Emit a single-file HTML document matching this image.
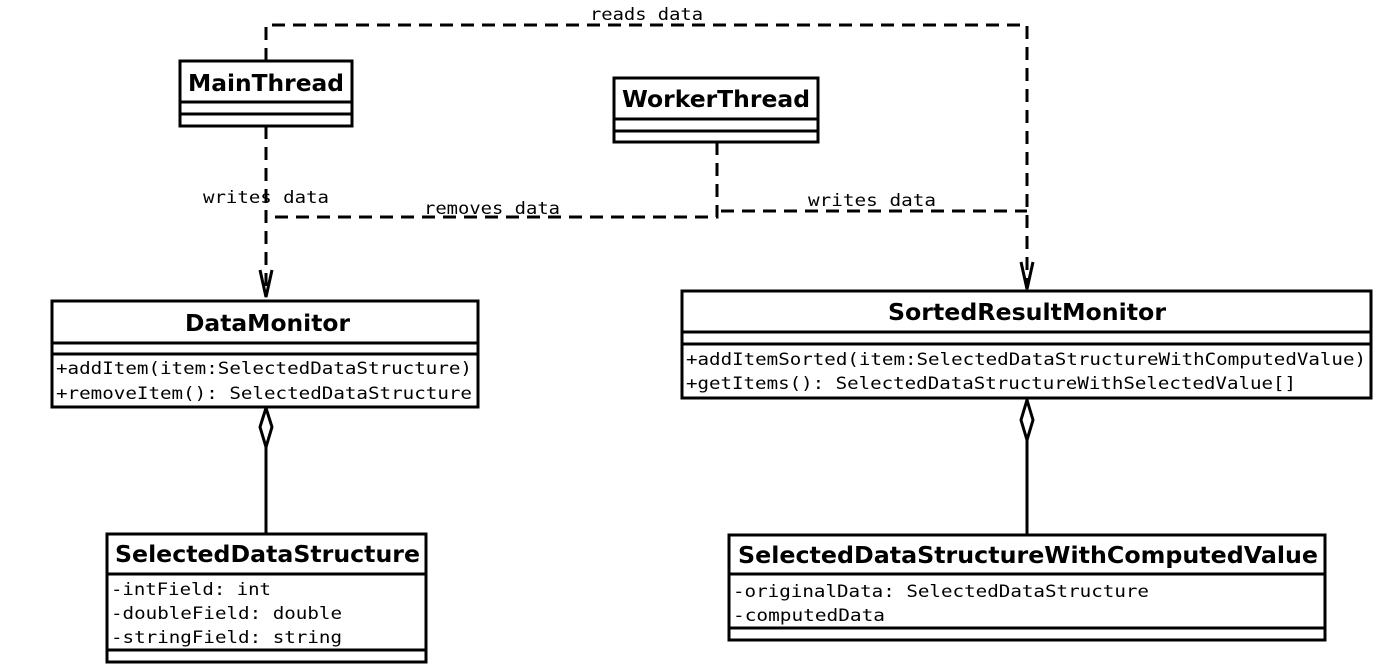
<!DOCTYPE html>
<html><head><meta charset="utf-8"><style>
html,body{margin:0;padding:0;background:#fff;}
svg{display:block;}
.t{font-family:"DejaVu Sans","Liberation Sans",sans-serif;font-weight:bold;font-size:23px;fill:#000;}
.m{font-family:"DejaVu Sans Mono","Liberation Mono",monospace;font-size:17px;fill:#000;}
.b{fill:#fff;stroke:#000;stroke-width:3;}
.l{stroke:#000;stroke-width:3;fill:none;}
.d{stroke:#000;stroke-width:3;fill:none;stroke-dasharray:13,8;}
</style></head><body>
<svg width="1383" height="670" viewBox="0 0 1383 670" xmlns="http://www.w3.org/2000/svg">
<polyline class="d" points="266,61 266,25 1027,25 1027,289"/>
<line class="d" x1="266" y1="126" x2="266" y2="297"/>
<polyline class="d" points="717,142 717,217 270,217"/>
<line class="d" x1="721" y1="211" x2="1027" y2="211"/>
<polyline class="l" points="260,270 266,297 272,270"/>
<polyline class="l" points="1021,262 1027,289 1033,262"/>
<text class="m" x="590" y="20" textLength="113" lengthAdjust="spacingAndGlyphs">reads data</text>
<text class="m" x="203" y="203" textLength="126" lengthAdjust="spacingAndGlyphs">writes data</text>
<text class="m" x="424" y="214" textLength="136" lengthAdjust="spacingAndGlyphs">removes data</text>
<text class="m" x="808" y="206" textLength="128" lengthAdjust="spacingAndGlyphs">writes data</text>
<line class="l" x1="266" y1="447" x2="266" y2="534"/>
<polygon class="l" points="266,408 272,427 266,447 260,427" style="fill:#fff"/>
<line class="l" x1="1027" y1="440" x2="1027" y2="535"/>
<polygon class="l" points="1027,400 1033,420 1027,440 1021,420" style="fill:#fff"/>
<rect class="b" x="180" y="61" width="172" height="65"/>
<line class="l" x1="180" y1="102" x2="352" y2="102"/>
<line class="l" x1="180" y1="114" x2="352" y2="114"/>
<text class="t" x="188" y="91" textLength="156" lengthAdjust="spacingAndGlyphs">MainThread</text>
<rect class="b" x="614" y="78" width="204" height="64"/>
<line class="l" x1="614" y1="119" x2="818" y2="119"/>
<line class="l" x1="614" y1="131" x2="818" y2="131"/>
<text class="t" x="622" y="107" textLength="188" lengthAdjust="spacingAndGlyphs">WorkerThread</text>
<rect class="b" x="52" y="301" width="426" height="106"/>
<line class="l" x1="52" y1="343" x2="478" y2="343"/>
<line class="l" x1="52" y1="354" x2="478" y2="354"/>
<text class="t" x="185" y="331" textLength="165" lengthAdjust="spacingAndGlyphs">DataMonitor</text>
<text class="m" x="56" y="374" textLength="416" lengthAdjust="spacingAndGlyphs">+addItem(item:SelectedDataStructure)</text>
<text class="m" x="56" y="399" textLength="416" lengthAdjust="spacingAndGlyphs">+removeItem(): SelectedDataStructure</text>
<rect class="b" x="682" y="291" width="689" height="107"/>
<line class="l" x1="682" y1="332" x2="1371" y2="332"/>
<line class="l" x1="682" y1="344" x2="1371" y2="344"/>
<text class="t" x="888" y="320" textLength="278" lengthAdjust="spacingAndGlyphs">SortedResultMonitor</text>
<text class="m" x="686" y="365" textLength="680" lengthAdjust="spacingAndGlyphs">+addItemSorted(item:SelectedDataStructureWithComputedValue)</text>
<text class="m" x="686" y="389" textLength="610" lengthAdjust="spacingAndGlyphs">+getItems(): SelectedDataStructureWithSelectedValue[]</text>
<rect class="b" x="107" y="534" width="319" height="128"/>
<line class="l" x1="107" y1="574" x2="426" y2="574"/>
<line class="l" x1="107" y1="650" x2="426" y2="650"/>
<text class="t" x="115" y="562" textLength="305" lengthAdjust="spacingAndGlyphs">SelectedDataStructure</text>
<text class="m" x="111" y="595" textLength="160" lengthAdjust="spacingAndGlyphs">-intField: int</text>
<text class="m" x="111" y="619" textLength="231" lengthAdjust="spacingAndGlyphs">-doubleField: double</text>
<text class="m" x="111" y="643" textLength="231" lengthAdjust="spacingAndGlyphs">-stringField: string</text>
<rect class="b" x="729" y="535" width="596" height="105"/>
<line class="l" x1="729" y1="574" x2="1325" y2="574"/>
<line class="l" x1="729" y1="628" x2="1325" y2="628"/>
<text class="t" x="738" y="563" textLength="580" lengthAdjust="spacingAndGlyphs">SelectedDataStructureWithComputedValue</text>
<text class="m" x="733" y="597" textLength="416" lengthAdjust="spacingAndGlyphs">-originalData: SelectedDataStructure</text>
<text class="m" x="733" y="621" textLength="152" lengthAdjust="spacingAndGlyphs">-computedData</text>
</svg>
</body></html>
